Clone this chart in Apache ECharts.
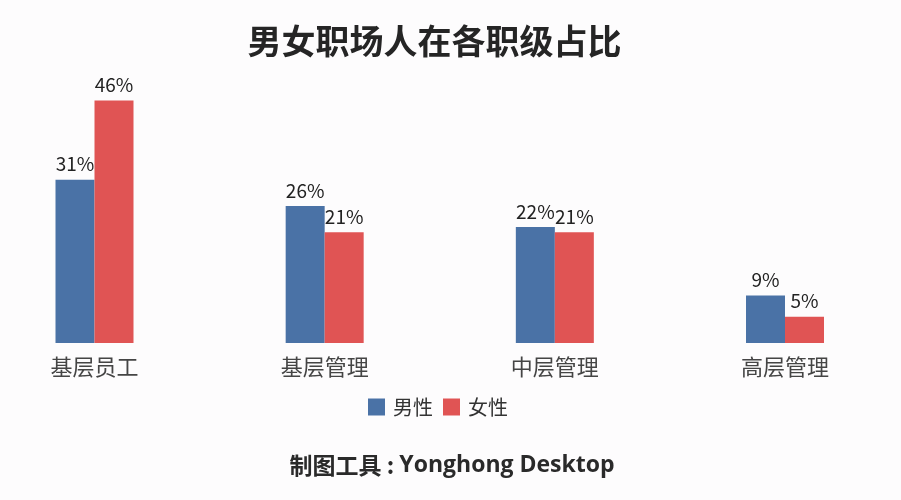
<!DOCTYPE html>
<html><head><meta charset="utf-8">
<script src="https://cdn.jsdelivr.net/npm/echarts@6/dist/echarts.min.js"></script>
<style>html,body{margin:0;padding:0;background:#fdfcfd;}#c{width:901px;height:500px;}</style>
</head><body><div id="c"></div>
<script>
const categories = ['基层员工', '基层管理', '中层管理', '高层管理'];
const maleValues = [31, 26, 22, 9];
const femaleValues = [46, 21, 21, 5];
const seriesNames = ['男性', '女性'];

const chart = echarts.init(document.getElementById('c'));
const font = '"Noto Sans CJK SC", "Noto Sans", sans-serif';
chart.setOption({
  backgroundColor: '#fdfcfd',
  textStyle: { fontFamily: font },
  title: [
    { text: '男女职场人在各职级占比', left: 429.5, textAlign: 'center', top: 19,
      textStyle: { fontSize: 34, fontWeight: 'bold', color: '#252525', fontFamily: font } },
    { text: '{a|制图工具 : }{b|Yonghong Desktop}', left: 447, textAlign: 'center', top: 449,
      textStyle: { rich: {
        a: { fontSize: 23, fontWeight: 'bold', color: '#2a2a2a', fontFamily: font },
        b: { fontSize: 23, fontWeight: 'bold', color: '#2a2a2a', fontFamily: '"Open Sans", "Noto Sans", sans-serif' }
      } } }
  ],
  legend: {
    data: seriesNames, left: 363, top: 392, itemWidth: 17, itemHeight: 17, itemGap: 10,
    icon: 'rect', textStyle: { fontSize: 20, color: '#333', fontFamily: font, padding: [0, 0, 0, 3] }
  },
  grid: { left: 94.5, right: 116, top: 79.5, bottom: 157 },
  xAxis: {
    type: 'category', data: categories, boundaryGap: false,
    axisLine: { show: false }, axisTick: { show: false },
    axisLabel: { fontSize: 22, color: '#454545', margin: 13, fontFamily: font }
  },
  yAxis: { type: 'value', min: 0, max: 50, show: false, splitLine: { show: false } },
  series: [
    { name: seriesNames[0], type: 'bar', data: maleValues, barWidth: 39, barGap: '0%', clip: false,
      itemStyle: { color: '#4a72a6' },
      label: { show: true, position: 'top', distance: 6, formatter: '{c}%', fontSize: 19, color: '#222', fontFamily: font } },
    { name: seriesNames[1], type: 'bar', data: femaleValues, barWidth: 39, barGap: '0%', clip: false,
      itemStyle: { color: '#e05454' },
      label: { show: true, position: 'top', distance: 6, formatter: '{c}%', fontSize: 19, color: '#222', fontFamily: font } }
  ]
});
</script></body></html>
